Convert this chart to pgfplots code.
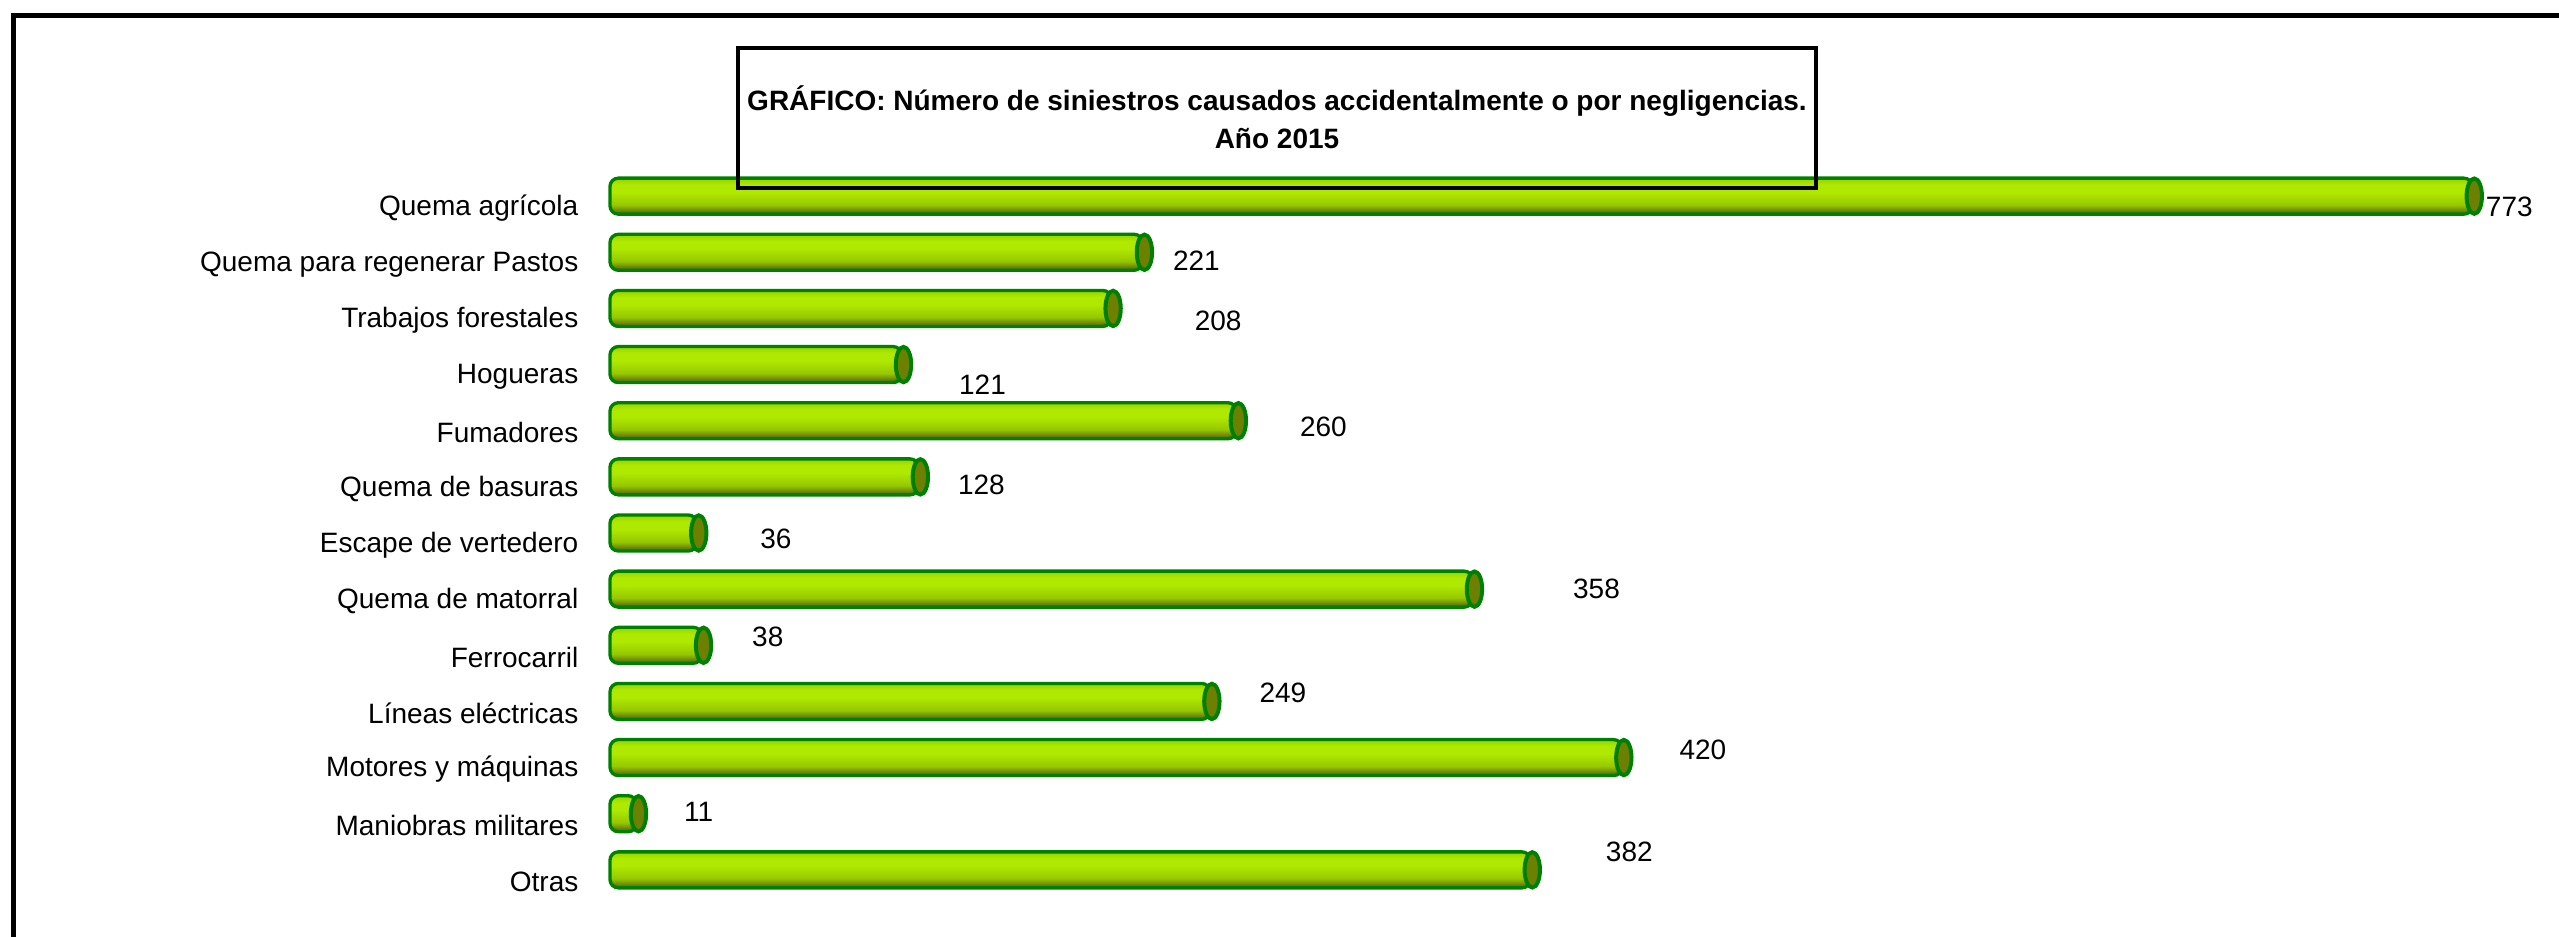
\documentclass[border=0pt]{standalone}
\usepackage{pgfplots}
\usepackage{pgfplotstable}
\pgfplotsset{compat=1.18}
\usepackage{fontspec}
\setmainfont{Liberation Sans}

\definecolor{edge}{RGB}{0,128,0}
\definecolor{ctop}{RGB}{150,210,0}
\definecolor{clight}{RGB}{175,232,0}
\definecolor{cmid}{RGB}{150,200,0}
\definecolor{cdark}{RGB}{85,95,0}
\definecolor{capc}{RGB}{110,128,0}

\pgfdeclareverticalshading{cyl}{100bp}{color(0bp)=(cdark); color(25bp)=(cdark); color(38bp)=(cmid); color(55bp)=(clight); color(66bp)=(clight); color(75bp)=(ctop); color(100bp)=(ctop)}

\pgfdeclareplotmark{cap}{%
  \pgfpathellipse{\pgfqpoint{0.6pt}{0pt}}{\pgfqpoint{2.3pt}{0pt}}{\pgfqpoint{0pt}{5.3pt}}%
  \pgfusepathqfillstroke}

% i = row (top to bottom), v = value, dx/dy = label offset in pt
\pgfplotstableread{
i v dx dy
0 773 3.6 -3.3
1 221 8.7 -2.4
2 208 24.6 -3.6
3 121 16.8 -5.9
4 260 18.6 -1.7
5 128 11.4 -2.4
6 36 18.6 -1.8
7 358 29.7 0
8 38 14.7 2.6
9 249 14.4 2.7
10 420 16.8 2.4
11 11 13.8 0.6
12 382 22.2 5.3
}\causas

\begin{document}
\fontsize{8.4}{10}\selectfont
\begin{tikzpicture}[x=0.3pt, y=-0.3pt]
\path[use as bounding box] (0,0) rectangle (2559,937);

\begin{axis}[
    at={(183pt,-42pt)}, anchor=north west,
    scale only axis, width=578.2pt, height=235.8pt,
    xmin=0, xmax=800, ymin=-1, ymax=13,
    y dir=reverse,
    axis line style={draw=none}, tick style={draw=none},
    xtick=\empty,
    ytick={0,...,12},
    yticklabels={Quema agrícola, Quema para regenerar Pastos, Trabajos forestales, Hogueras, Fumadores, Quema de basuras, Escape de vertedero, Quema de matorral, Ferrocarril, Líneas eléctricas, Motores y máquinas, Maniobras militares, Otras},
    yticklabel style={font=\fontsize{8.4}{10}\selectfont, inner sep=0pt, xshift=-9.3pt, yshift=-3.6pt},
    clip=false,
  ]
  % one plot per bar, so that each cylinder gets its own shading
  \pgfplotsinvokeforeach{0,...,12}{
    \addplot[xbar, bar width=10.8pt, shading=cyl, draw=edge, line width=1pt, rounded corners=2.5pt,
      x filter/.expression={\coordindex==#1 ? x : nan},
      point meta=explicit symbolic,
      visualization depends on={\thisrow{dx} \as \dx},
      visualization depends on={\thisrow{dy} \as \dy},
      nodes near coords,
      nodes near coords style={font=\fontsize{8.4}{10}\selectfont, anchor=west, inner sep=0pt, xshift=\dx pt, yshift=\dy pt, text=black},
    ] table[x=v, y=i, meta=v] {\causas};
  }
  \addplot[only marks, mark=cap, mark options={fill=capc, draw=edge, line width=1.2pt}] table[x=v, y=i] {\causas};
\end{axis}

% outer frame (right and bottom edges lie outside the picture)
\draw[line width=1.5pt] (13,937) -- (13,16) -- (2559,16);

% title box
\draw[line width=1.4pt] (738,48) rectangle (1816,188);
\node[font=\bfseries\fontsize{8.4}{10}\selectfont] at (1277,101) {GRÁFICO: Número de siniestros causados accidentalmente o por negligencias.};
\node[font=\bfseries\fontsize{8.4}{10}\selectfont] at (1277,139) {Año 2015};
\end{tikzpicture}
\end{document}
